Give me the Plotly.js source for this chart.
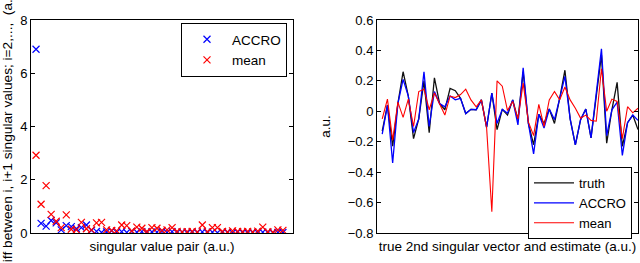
<!DOCTYPE html>
<html>
<head>
<meta charset="utf-8">
<script src="https://cdn.plot.ly/plotly-3.0.1.min.js"></script>
<style>html,body{margin:0;padding:0;background:#fff;}#chart{width:640px;height:263px;}</style>
</head>
<body>
<div id="chart"></div>
<script>
// Left panel: differences between consecutive singular values
var pairIndex = [];
for (var k = 1; k <= 50; k++) pairIndex.push(k);
var diffACCRO = [6.90,0.36,0.26,0.47,0.38,0.12,0.28,0.24,0.16,0.20,
                 0.30,0.10,0.06,0.02,0.04,0.08,0.03,0.05,0.02,0.06,
                 0.03,0.05,0.02,0.04,0.03,0.06,0.02,0.05,0.02,0.03,
                 0.01,0.03,0.02,0.04,0.02,0.03,0.01,0.03,0.02,0.01,
                 0.03,0.02,0.01,0.02,0.01,0.03,0.02,0.01,0.02,0.02];
var diffMean  = [2.92,1.08,1.78,0.70,0.44,0.20,0.68,0.14,0.12,0.40,
                 0.16,0.12,0.38,0.40,0.12,0.10,0.08,0.30,0.28,0.08,
                 0.22,0.18,0.06,0.20,0.18,0.10,0.12,0.20,0.06,0.04,
                 0.05,0.06,0.04,0.30,0.05,0.20,0.20,0.06,0.04,0.08,
                 0.06,0.05,0.06,0.04,0.07,0.22,0.05,0.03,0.12,0.10];

// Right panel: true 2nd singular vector and estimates
var vecIndex = [];
for (var j = 1; j <= 50; j++) vecIndex.push(j);
var truth = [-0.13,0.04,-0.23,0.05,0.26,0.10,-0.18,-0.05,0.20,-0.14,
             0.22,0.05,0.01,0.15,0.135,0.085,-0.015,0.013,0.01,0.075,
             -0.105,0.12,-0.12,0.013,-0.025,0.075,-0.055,0.26,-0.08,-0.22,
             -0.02,-0.08,0.015,-0.08,0.085,0.27,-0.05,-0.22,-0.055,0.015,
             -0.175,0.10,0.37,-0.21,0.01,0.19,-0.23,-0.075,-0.025,-0.12];
var accro = [-0.15,0.04,-0.34,0.05,0.21,0.10,-0.14,-0.05,0.26,-0.10,
             0.13,0.05,0.03,0.10,0.075,0.085,-0.015,0.013,0.01,0.075,
             -0.105,0.12,-0.08,0.013,-0.013,0.075,-0.09,0.285,-0.08,-0.28,
             -0.02,-0.11,0.015,-0.055,0.085,0.23,-0.05,-0.22,-0.055,0.015,
             -0.175,0.10,0.41,-0.16,0.01,0.06,-0.29,-0.075,-0.025,-0.06];
var meanEst = [-0.05,0.08,-0.19,0.06,-0.04,0.08,-0.10,0.13,0.145,0.01,
               0.12,0.05,-0.025,0.10,0.09,0.11,0.145,0.075,0.03,0.075,
               -0.11,-0.66,0.20,0.165,0.005,0.065,-0.05,0.185,-0.07,-0.16,
               0.045,-0.10,0.075,0.13,0.075,0.16,0.075,0.02,-0.045,-0.025,
               -0.06,-0.065,0.28,0.00,0.08,0.065,-0.18,0.03,-0.01,0.02];

var FONT = 'Liberation Sans, Arial, Helvetica, sans-serif';
var TS = 13.5;

var traces = [
  {x: pairIndex, y: diffACCRO, type: 'scatter', mode: 'markers', name: 'ACCRO',
   xaxis: 'x', yaxis: 'y', legend: 'legend',
   marker: {symbol: 'x-thin', size: 7, line: {color: '#0000ff', width: 1.2}, color: '#0000ff'}},
  {x: pairIndex, y: diffMean, type: 'scatter', mode: 'markers', name: 'mean',
   xaxis: 'x', yaxis: 'y', legend: 'legend',
   marker: {symbol: 'x-thin', size: 7, line: {color: '#ff0000', width: 1.2}, color: '#ff0000'}},
  {x: vecIndex, y: truth, type: 'scatter', mode: 'lines', name: 'truth',
   xaxis: 'x2', yaxis: 'y2', legend: 'legend2',
   line: {color: '#111111', width: 1.3}},
  {x: vecIndex, y: accro, type: 'scatter', mode: 'lines', name: 'ACCRO',
   xaxis: 'x2', yaxis: 'y2', legend: 'legend2',
   line: {color: '#0000ff', width: 1.3}},
  {x: vecIndex, y: meanEst, type: 'scatter', mode: 'lines', name: 'mean',
   xaxis: 'x2', yaxis: 'y2', legend: 'legend2',
   line: {color: '#ff0000', width: 1.1}}
];

var W = 640, H = 263;
var yDom = [(H - 233) / H, (H - 20) / H];

function boxAxis(extra) {
  var a = {showline: true, linecolor: '#000', linewidth: 1, mirror: 'ticks',
           showgrid: false, zeroline: false, ticks: 'inside', ticklen: 4,
           tickcolor: '#000', tickfont: {family: FONT, size: 13, color: '#000'}};
  for (var k in extra) a[k] = extra[k];
  return a;
}

var layout = {
  width: W, height: H,
  margin: {l: 0, r: 0, t: 0, b: 0},
  paper_bgcolor: '#fff', plot_bgcolor: '#fff',
  font: {family: FONT, size: TS, color: '#000'},
  showlegend: true,
  xaxis: boxAxis({domain: [31 / W, 293 / W], range: [0, 52], ticks: '', showticklabels: false,
    title: {text: 'singular value pair (a.u.)', font: {family: FONT, size: TS}, standoff: 8}}),
  yaxis: boxAxis({domain: yDom, range: [0, 8], dtick: 2, anchor: 'x',
    title: {text: 'diff between i, i+1 singular values; i=2,...,  (a.u.)', font: {family: FONT, size: 13.7}}}),
  xaxis2: boxAxis({domain: [377 / W, 638 / W], range: [0, 50], ticks: '', showticklabels: false, anchor: 'y2',
    title: {text: 'true 2nd singular vector and estimate (a.u.)', font: {family: FONT, size: TS}, standoff: 8}}),
  yaxis2: boxAxis({domain: yDom, range: [-0.8, 0.6], dtick: 0.2, anchor: 'x2',
    title: {text: 'a.u.', font: {family: FONT, size: TS}, standoff: 14}}),
  legend: {x: 287 / W, xanchor: 'right', y: (H - 23) / H, yanchor: 'top',
    bordercolor: '#000', borderwidth: 1, bgcolor: '#fff', itemwidth: 40,
    font: {family: FONT, size: TS, color: '#000'}},
  legend2: {x: 632 / W, xanchor: 'right', y: (H - 167) / H, yanchor: 'top',
    bordercolor: '#000', borderwidth: 1, bgcolor: '#fff', itemwidth: 40,
    font: {family: FONT, size: 13, color: '#000'}}
};

Plotly.newPlot('chart', traces, layout, {displayModeBar: false, staticPlot: true});
</script>
</body>
</html>
